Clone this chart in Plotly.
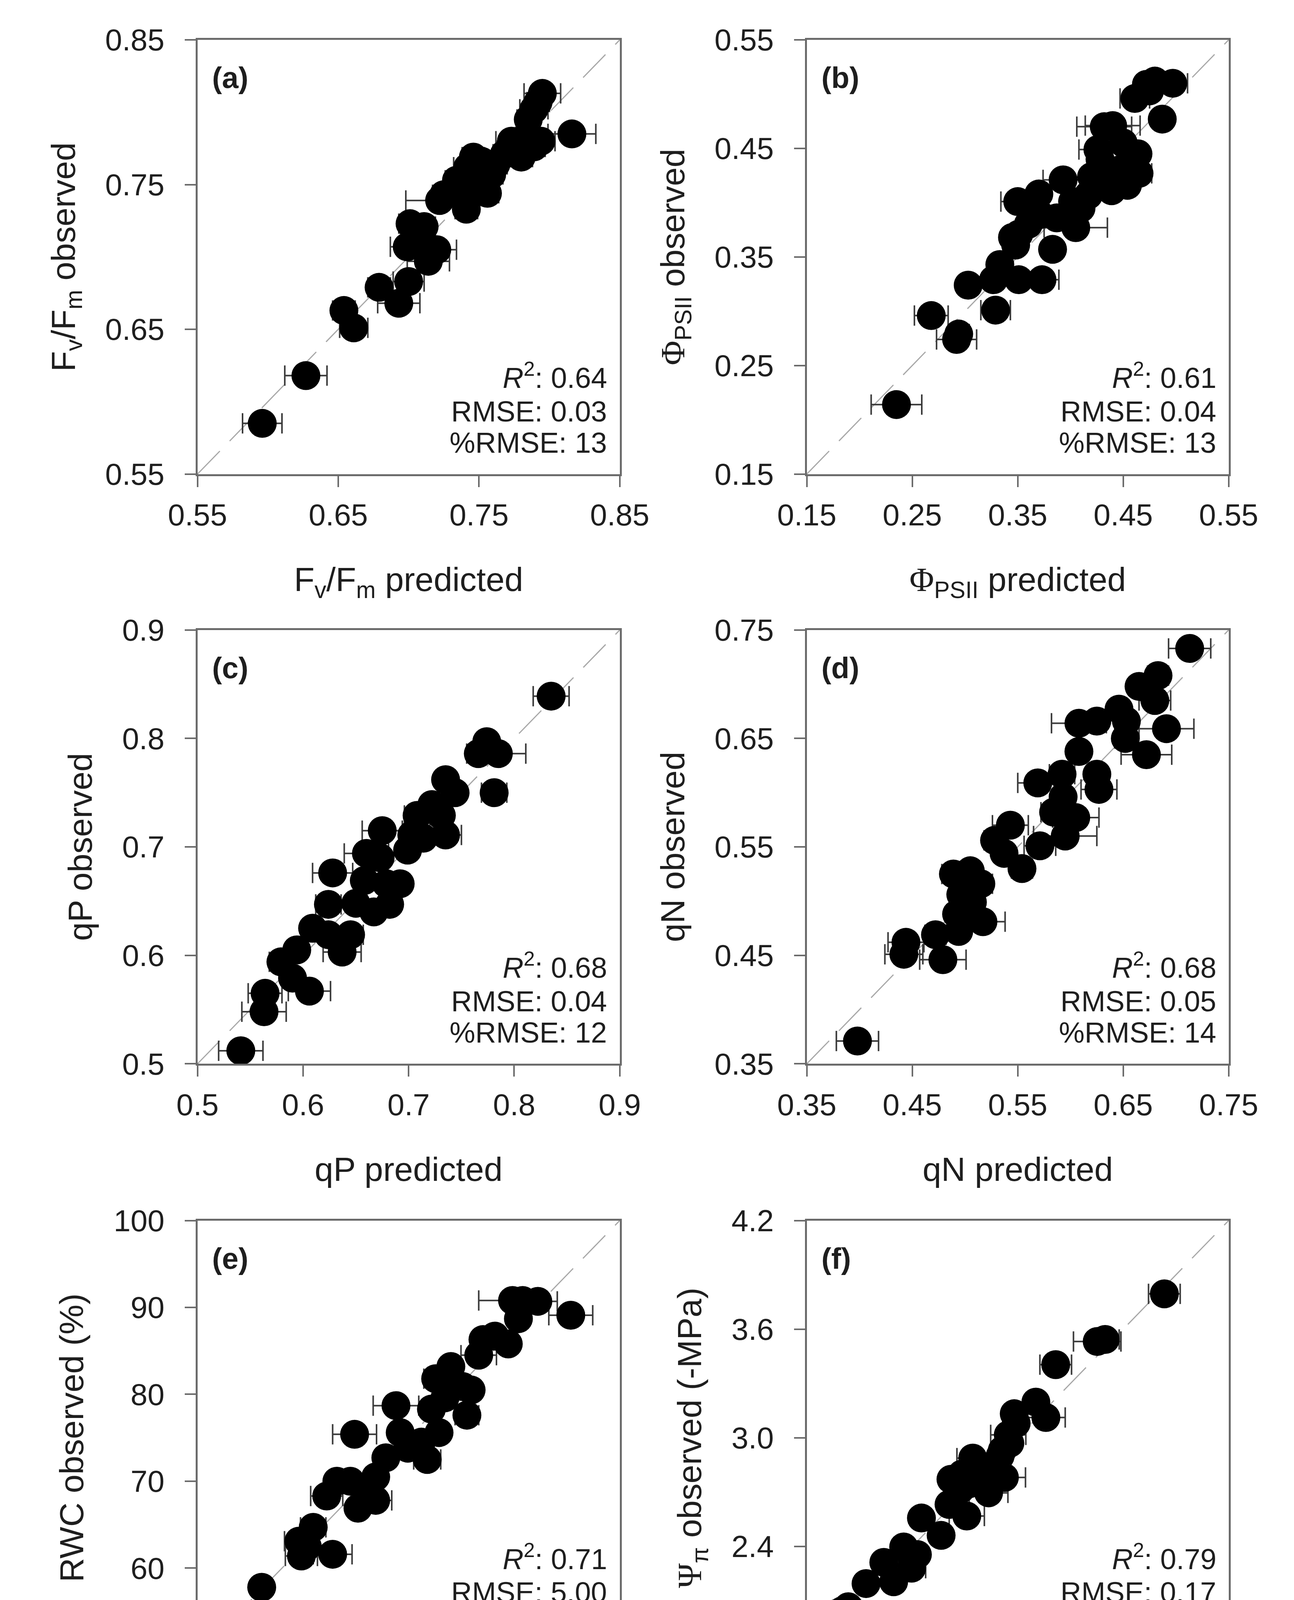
import plotly.graph_objects as go
from plotly.subplots import make_subplots

# (a) Fv/Fm
fvfm_pred = [0.596, 0.627, 0.654, 0.661, 0.679, 0.693, 0.700, 0.701, 0.699, 0.714,
             0.720, 0.711, 0.722, 0.725, 0.741, 0.742, 0.752, 0.756, 0.753, 0.748,
             0.762, 0.773, 0.780, 0.789, 0.794, 0.789, 0.792, 0.795, 0.816, 0.785,
             0.738, 0.746, 0.706, 0.759, 0.768, 0.784, 0.734]
fvfm_obs = [0.585, 0.618, 0.663, 0.651, 0.679, 0.668, 0.683, 0.723, 0.707, 0.697,
            0.705, 0.721, 0.739, 0.743, 0.733, 0.762, 0.766, 0.744, 0.757, 0.753,
            0.764, 0.780, 0.769, 0.776, 0.780, 0.802, 0.807, 0.813, 0.785, 0.795,
            0.747, 0.769, 0.714, 0.757, 0.771, 0.783, 0.753]
fvfm_err = [0.014, 0.015, 0.008, 0.010, 0.008, 0.015, 0.011, 0.008, 0.012, 0.015,
            0.014, 0.008, 0.024, 0.008, 0.008, 0.010, 0.008, 0.008, 0.008, 0.008,
            0.008, 0.011, 0.008, 0.008, 0.010, 0.010, 0.008, 0.013, 0.017, 0.008,
            0.008, 0.008, 0.008, 0.008, 0.008, 0.008, 0.008]

# (b) PhiPSII
phi_pred = [0.235, 0.268, 0.292, 0.294, 0.303, 0.329, 0.327, 0.351, 0.373, 0.333,
            0.348, 0.351, 0.350, 0.370, 0.383, 0.387, 0.405, 0.393, 0.402, 0.417,
            0.420, 0.439, 0.454, 0.446, 0.465, 0.464, 0.426, 0.432, 0.440, 0.461,
            0.475, 0.497, 0.487, 0.360, 0.345, 0.371, 0.410, 0.428, 0.450, 0.472,
            0.480, 0.362, 0.430]
phi_obs = [0.214, 0.296, 0.274, 0.279, 0.324, 0.301, 0.329, 0.329, 0.329, 0.343,
           0.361, 0.371, 0.401, 0.408, 0.357, 0.386, 0.377, 0.421, 0.401, 0.407,
           0.424, 0.411, 0.416, 0.430, 0.427, 0.445, 0.449, 0.470, 0.471, 0.496,
           0.503, 0.510, 0.477, 0.380, 0.368, 0.389, 0.395, 0.440, 0.455, 0.509,
           0.512, 0.395, 0.418]
phi_err = [0.024, 0.016, 0.019, 0.010, 0.008, 0.014, 0.008, 0.008, 0.016, 0.008,
           0.008, 0.008, 0.016, 0.008, 0.008, 0.008, 0.030, 0.019, 0.008, 0.008,
           0.008, 0.008, 0.008, 0.008, 0.012, 0.008, 0.018, 0.026, 0.026, 0.014,
           0.008, 0.014, 0.008, 0.008, 0.008, 0.008, 0.008, 0.008, 0.008, 0.008,
           0.008, 0.008, 0.008]

# (c) qP
qp_pred = [0.541, 0.563, 0.564, 0.579, 0.594, 0.590, 0.606, 0.609, 0.624, 0.624,
           0.628, 0.637, 0.645, 0.650, 0.658, 0.660, 0.667, 0.675, 0.673, 0.682,
           0.692, 0.679, 0.699, 0.703, 0.708, 0.722, 0.735, 0.735, 0.744, 0.731,
           0.774, 0.766, 0.785, 0.781, 0.835, 0.714]
qp_obs = [0.512, 0.548, 0.565, 0.594, 0.605, 0.579, 0.567, 0.625, 0.619, 0.647,
          0.676, 0.603, 0.619, 0.648, 0.669, 0.694, 0.640, 0.715, 0.690, 0.647,
          0.666, 0.666, 0.697, 0.711, 0.729, 0.739, 0.711, 0.762, 0.750, 0.729,
          0.797, 0.786, 0.786, 0.750, 0.839, 0.708]
qp_err = [0.021, 0.021, 0.016, 0.011, 0.008, 0.008, 0.020, 0.008, 0.008, 0.012,
          0.019, 0.018, 0.012, 0.008, 0.008, 0.021, 0.008, 0.019, 0.008, 0.008,
          0.008, 0.008, 0.008, 0.008, 0.012, 0.008, 0.015, 0.008, 0.008, 0.008,
          0.008, 0.011, 0.026, 0.012, 0.017, 0.008]

# (d) qN
qn_pred = [0.398, 0.442, 0.444, 0.479, 0.472, 0.494, 0.489, 0.492, 0.496, 0.505,
           0.515, 0.517, 0.507, 0.528, 0.543, 0.537, 0.554, 0.571, 0.569, 0.592,
           0.593, 0.595, 0.605, 0.608, 0.627, 0.625, 0.608, 0.625, 0.646, 0.652,
           0.653, 0.665, 0.672, 0.680, 0.683, 0.691, 0.713, 0.584]
qn_obs = [0.371, 0.451, 0.462, 0.446, 0.469, 0.472, 0.525, 0.488, 0.506, 0.528,
          0.516, 0.481, 0.499, 0.556, 0.570, 0.544, 0.530, 0.551, 0.609, 0.617,
          0.596, 0.560, 0.577, 0.638, 0.603, 0.617, 0.664, 0.666, 0.677, 0.650,
          0.666, 0.698, 0.635, 0.685, 0.708, 0.659, 0.733, 0.582]
qn_err = [0.020, 0.018, 0.017, 0.022, 0.010, 0.008, 0.011, 0.008, 0.008, 0.008,
          0.011, 0.021, 0.008, 0.010, 0.017, 0.008, 0.010, 0.015, 0.019, 0.012,
          0.008, 0.030, 0.022, 0.008, 0.017, 0.008, 0.026, 0.008, 0.008, 0.010,
          0.008, 0.008, 0.024, 0.015, 0.010, 0.026, 0.020, 0.012]

# (e) RWC (%)
rwc_pred = [55.5, 57.6, 62.3, 62.0, 63.7, 63.0, 66.0, 65.3, 66.5, 68.1,
            69.0, 70.2, 71.1, 68.6, 71.1, 72.3, 73.5, 74.0, 74.9, 76.5,
            77.2, 77.7, 78.6, 78.2, 80.0, 79.3, 81.4, 81.9, 82.4, 83.3,
            83.8, 85.2, 86.8, 87.3, 88.0, 90.3, 94.2, 88.5]
rwc_obs = [51.9, 57.8, 61.4, 63.1, 64.7, 62.5, 61.6, 68.3, 70.0, 70.0,
           66.9, 68.9, 67.8, 75.4, 70.5, 72.7, 78.7, 75.6, 73.8, 74.5,
           72.5, 78.3, 75.6, 81.8, 83.2, 79.6, 80.9, 77.6, 80.5, 84.5,
           86.3, 86.7, 85.8, 90.8, 88.7, 90.7, 89.1, 90.8]
rwc_err = [2.7, 1.0, 1.9, 1.7, 1.5, 1.0, 2.3, 1.9, 1.0, 1.0,
           1.0, 1.0, 1.9, 2.6, 1.0, 1.0, 2.7, 1.0, 1.0, 1.2,
           1.6, 1.0, 1.0, 1.4, 1.0, 1.0, 1.0, 1.4, 1.0, 2.1,
           1.0, 1.0, 1.0, 4.0, 1.0, 2.3, 2.6, 1.0]

# (f) osmotic potential (-MPa)
psi_pred = [3.834, 3.452, 3.497, 3.216, 3.103, 3.160, 2.980, 2.946, 2.912, 2.879,
            2.744, 2.924, 2.834, 2.620, 2.710, 2.609, 2.676, 2.778, 2.452, 2.564,
            2.351, 2.429, 2.396, 2.238, 2.294, 2.137, 2.036, 1.957, 1.935, 2.002,
            2.991, 2.811, 2.900, 2.955, 2.722, 2.683, 2.400, 1.970]
psi_obs = [3.795, 3.532, 3.543, 3.404, 3.197, 3.112, 3.133, 3.016, 2.931, 2.845,
           2.888, 2.781, 2.696, 2.771, 2.568, 2.632, 2.717, 2.803, 2.557, 2.461,
           2.397, 2.355, 2.280, 2.312, 2.205, 2.195, 2.067, 2.013, 1.981, 2.045,
           3.080, 2.771, 2.900, 2.970, 2.745, 2.800, 2.330, 2.030]
psi_err = [0.09, 0.135, 0.08, 0.09, 0.03, 0.11, 0.03, 0.10, 0.03, 0.03,
           0.09, 0.12, 0.11, 0.03, 0.10, 0.03, 0.03, 0.03, 0.03, 0.03,
           0.03, 0.03, 0.08, 0.03, 0.03, 0.03, 0.03, 0.03, 0.03, 0.03,
           0.03, 0.03, 0.03, 0.03, 0.03, 0.03, 0.03, 0.03]

# axis ticks
fvfm_ticks = [0.55, 0.65, 0.75, 0.85]
phi_ticks = [0.15, 0.25, 0.35, 0.45, 0.55]
qp_ticks = [0.5, 0.6, 0.7, 0.8, 0.9]
qn_ticks = [0.35, 0.45, 0.55, 0.65, 0.75]
rwc_ticks = [50, 60, 70, 80, 90, 100]
psi_ticks = [1.8, 2.4, 3.0, 3.6, 4.2]

# panel labels and fit statistics
panel_labels = ["(a)", "(b)", "(c)", "(d)", "(e)", "(f)"]
r2_vals = ["0.64", "0.61", "0.68", "0.68", "0.71", "0.79"]
rmse_vals = ["0.03", "0.04", "0.04", "0.05", "5.00", "0.17"]
prmse_vals = ["13", "13", "12", "14", "13", "9"]

PHI = '<span style="font-family:Liberation Serif">Φ</span>'
PSI = '<span style="font-family:Liberation Serif">Ψ</span>'
x_titles = ["F<sub>v</sub>/F<sub>m</sub> predicted",
            PHI + "<sub>PSII</sub> predicted",
            "qP predicted",
            "qN predicted",
            "RWC predicted (%)",
            PSI + "<sub>π</sub> predicted (-MPa)"]
y_titles = ["F<sub>v</sub>/F<sub>m</sub> observed",
            PHI + "<sub>PSII</sub> observed",
            "qP observed",
            "qN observed",
            "RWC observed (%)",
            PSI + "<sub>π</sub> observed (-MPa)"]

panels = [
    (fvfm_pred, fvfm_obs, fvfm_err, fvfm_ticks, ".2f"),
    (phi_pred, phi_obs, phi_err, phi_ticks, ".2f"),
    (qp_pred, qp_obs, qp_err, qp_ticks, ".1f"),
    (qn_pred, qn_obs, qn_err, qn_ticks, ".2f"),
    (rwc_pred, rwc_obs, rwc_err, rwc_ticks, "d"),
    (psi_pred, psi_obs, psi_err, psi_ticks, ".1f"),
]

W, H = 3313, 4633
PAGE_PAD = 8  # the html body margin shifts the figure by this much
col_px = [(450, 1583), (2085, 3217)]
row_px = [(59, 1192), (1599, 2731), (3140, 4274)]

FONT = "Liberation Sans, Arial, sans-serif"
AXIS_GREY = "#6b6b6b"
TEXT = "#1e1e1e"

fig = make_subplots(rows=3, cols=2)

for i, (xp, yo, err, ticks, fmt) in enumerate(panels):
    r, c = i // 2 + 1, i % 2 + 1
    rng = [ticks[0], ticks[-1]]

    # 1:1 line
    fig.add_trace(go.Scatter(x=rng, y=rng, mode="lines",
                             line=dict(color="#a8a8a8", width=3, dash="82px,36px"),
                             hoverinfo="skip"), row=r, col=c)
    fig.add_trace(go.Scatter(x=xp, y=yo, mode="markers",
                             marker=dict(size=74, color="black", line=dict(width=0)),
                             error_x=dict(type="data", array=err, color="#3a3a3a",
                                          thickness=4, width=26)),
                  row=r, col=c)

    x0, x1 = [p - PAGE_PAD for p in col_px[c - 1]]
    y0, y1 = [p - PAGE_PAD for p in row_px[r - 1]]
    axis_common = dict(range=rng, tickvals=ticks, tickformat=fmt,
                       showgrid=False, zeroline=False,
                       showline=True, linecolor=AXIS_GREY, linewidth=5, mirror=True,
                       ticks="outside", ticklen=28, tickwidth=4, tickcolor=AXIS_GREY,
                       tickfont=dict(family=FONT, size=78, color=TEXT),
                       automargin=True)
    fig.update_xaxes(domain=[x0 / W, x1 / W], ticklabelstandoff=5,
                     title=dict(text=x_titles[i], standoff=93,
                                font=dict(family=FONT, size=86, color=TEXT)),
                     row=r, col=c, **axis_common)
    fig.update_yaxes(domain=[1 - y1 / H, 1 - y0 / H], ticklabelstandoff=36,
                     title=dict(text=y_titles[i], standoff=50,
                                font=dict(family=FONT, size=86, color=TEXT)),
                     row=r, col=c, **axis_common)

    xref = "x domain" if i == 0 else f"x{i + 1} domain"
    yref = "y domain" if i == 0 else f"y{i + 1} domain"
    fig.add_annotation(text="<b>" + panel_labels[i] + "</b>", xref=xref, yref=yref,
                       x=0.033, y=0.913, xanchor="left", yanchor="middle",
                       showarrow=False, font=dict(family=FONT, size=76, color=TEXT))
    stat_lines = [f"<i>R</i><sup>2</sup>: {r2_vals[i]}",
                  f"RMSE: {rmse_vals[i]}",
                  f"%RMSE: {prmse_vals[i]}"]
    for line, ypos in zip(stat_lines, [0.226, 0.144, 0.072]):
        fig.add_annotation(text=line, xref=xref, yref=yref, x=0.972, y=ypos,
                           xanchor="right", yanchor="middle", align="right",
                           showarrow=False, font=dict(family=FONT, size=74, color=TEXT))

fig.update_layout(width=W, height=H, showlegend=False,
                  margin=dict(l=0, r=0, t=0, b=0),
                  paper_bgcolor="white", plot_bgcolor="white",
                  font=dict(family=FONT, color=TEXT))

fig.write_html("out.html")
